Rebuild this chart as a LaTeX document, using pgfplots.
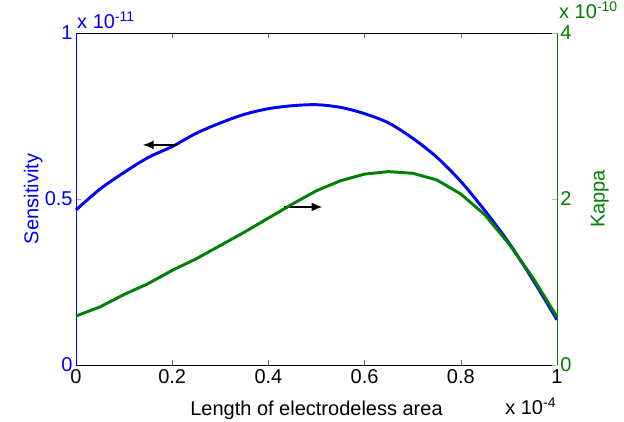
\documentclass[border=0pt]{standalone}
\usepackage{pgfplots}
\pgfplotsset{compat=1.18}
\usepackage{fontspec}
\setmainfont{Liberation Sans}
\usetikzlibrary{arrows.meta}
\definecolor{mblue}{RGB}{0,0,255}
\definecolor{mgreen}{RGB}{0,128,0}

% x in units of 1e-4, sensitivity in 1e-11, kappa in 1e-10
\pgfplotstableread{
x     s      k
0.00  0.467  0.59
0.05  0.530  0.70
0.10  0.580  0.85
0.15  0.625  0.98
0.20  0.658  1.14
0.25  0.698  1.28
0.30  0.729  1.44
0.35  0.755  1.60
0.40  0.772  1.77
0.45  0.781  1.94
0.50  0.784  2.10
0.55  0.776  2.22
0.60  0.757  2.30
0.65  0.729  2.33
0.70  0.683  2.31
0.75  0.626  2.23
0.80  0.553  2.06
0.85  0.465  1.81
0.90  0.368  1.46
0.95  0.256  1.05
1.00  0.136  0.58
}\data

\newcommand{\lbl}{\fontsize{15}{17}\selectfont}

\begin{document}
\begin{tikzpicture}[x=0.75pt,y=0.75pt]
\path[use as bounding box] (-76,-56) rectangle (548,365);
\pgfplotsset{
  every axis/.append style={
    at={(0,0)}, anchor=south west,
    scale only axis, width=360.75pt, height=249pt,
    xmin=0, xmax=1,
    tick align=inside,
    major tick length=4pt,
    clip=false,
    /pgf/number format/assume math mode=true,
    tick label style={font=\lbl},
  },
}
\begin{axis}[
  ymin=0, ymax=1,
  axis x line=box,
  axis y line*=left,
  xtick={0,0.2,0.4,0.6,0.8,1},
  xticklabels={0,0.2,0.4,0.6,0.8,1},
  ytick={0,0.5,1},
  yticklabels={0,0.5,1},
  x axis line style={black},
  y axis line style={mblue},
  xtick style={black!60},
  ytick style={mblue!40},
  yticklabel style={text=mblue, xshift=1pt},
  xticklabel style={text=black},
]
\addplot[mblue, line width=2.2pt, line join=round, smooth] table[x=x,y=s]{\data};
\draw[black, line width=1pt, -{Latex[length=8pt,width=6.5pt]}] (axis cs:0.211,0.663) -- (axis cs:0.139,0.663);
\draw[black, line width=1pt, -{Latex[length=8pt,width=6.5pt]}] (axis cs:0.433,0.476) -- (axis cs:0.512,0.476);
\node[anchor=base west, text=mblue, font=\lbl, inner sep=0pt] at (rel axis cs:0.002,1.015) {x 10\textsuperscript{-11}};
\node[anchor=base west, text=black, font=\lbl, inner sep=0pt] at (rel axis cs:0.892,-0.148) {x 10\textsuperscript{-4}};
\node[anchor=base, text=black, font=\lbl, inner sep=0pt] at (rel axis cs:0.5,-0.151) {Length of electrodeless area};
\node[rotate=90, text=mblue, font=\lbl] at (rel axis cs:-0.089,0.5) {Sensitivity};
\end{axis}
\begin{axis}[
  ymin=0, ymax=4,
  axis x line=none,
  axis y line*=right,
  ytick={0,2,4},
  yticklabels={0,2,4},
  y axis line style={mgreen},
  ytick style={mgreen!40},
  yticklabel style={text=mgreen, xshift=-1pt},
]
\addplot[mgreen, line width=2.2pt, line join=round] table[x=x,y=k]{\data};
\node[anchor=base west, text=mgreen, font=\lbl, inner sep=0pt] at (rel axis cs:1.004,1.045) {x 10\textsuperscript{-10}};
\node[rotate=90, text=mgreen, font=\lbl] at (rel axis cs:1.089,0.5) {Kappa};
\end{axis}
\end{tikzpicture}
\end{document}
